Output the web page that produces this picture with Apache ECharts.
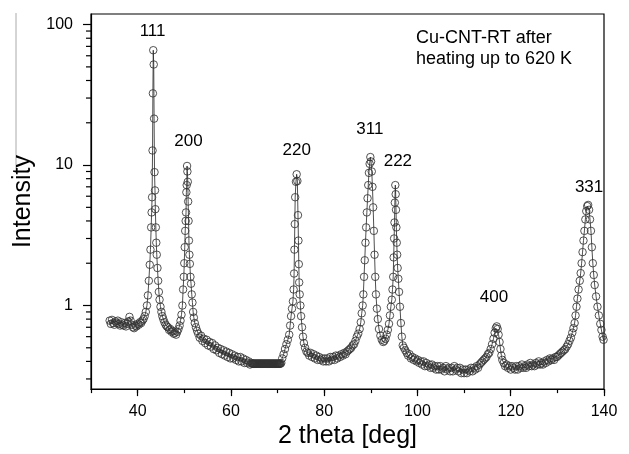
<!DOCTYPE html>
<html>
<head>
<meta charset="utf-8">
<script src="https://cdn.jsdelivr.net/npm/echarts@6/dist/echarts.min.js"></script>
<style>
html, body { margin: 0; padding: 0; background: #fff; }
#chart { width: 629px; height: 454px; }
</style>
</head>
<body>
<div id="chart"></div>
<script>
var X_MIN = 30, X_MAX = 140;
var Y_MIN = 0.254, Y_MAX = 119;

// measured pattern, split by region [2theta, intensity]
var bgLeft = [[34.0,0.78],[34.25,0.74],[34.5,0.79],[34.75,0.75],[35.0,0.73],[35.25,0.77],[35.5,0.75],[35.75,0.78],[36.0,0.74],[36.25,0.72],[36.5,0.76],[36.75,0.73],[37.0,0.72],[37.25,0.75],[37.5,0.71],[37.75,0.74],[38.0,0.77],[38.25,0.83],[38.5,0.78],[38.75,0.73],[39.0,0.70],[39.25,0.69],[39.5,0.72],[39.75,0.71],[40.0,0.74],[40.25,0.73],[40.5,0.76],[40.75,0.75],[41.0,0.78],[41.25,0.80],[41.5,0.84]];
var peak111 = [[41.75,0.90],[42.0,1.0],[42.2,1.18],[42.4,1.5],[42.6,1.95],[42.75,2.5],[42.9,3.6],[43.0,4.6],[43.1,5.9],[43.2,12.7],[43.27,32.4],[43.35,65.7],[43.45,52],[43.53,21.4],[43.62,8.9],[43.72,6.6],[43.8,4.85],[43.9,3.6],[44.0,2.8],[44.1,2.3],[44.25,1.85],[44.4,1.5],[44.55,1.25],[44.7,1.1],[44.9,0.98],[45.1,0.9],[45.3,0.84],[45.5,0.8],[45.75,0.76],[46.0,0.73],[46.25,0.71],[46.5,0.70],[46.75,0.67],[47.0,0.68],[47.25,0.65],[47.5,0.66],[47.75,0.63],[48.0,0.64],[48.25,0.62],[48.5,0.65],[48.75,0.68]];
var peak200 = [[49.0,0.72],[49.2,0.78],[49.4,0.86],[49.6,1.0],[49.75,1.3],[49.9,1.6],[50.0,2.0],[50.1,2.6],[50.2,3.4],[50.3,4.0],[50.38,4.6],[50.45,6.4],[50.52,7.2],[50.6,9.85],[50.67,9.0],[50.75,7.6],[50.83,5.5],[50.92,4.0],[51.0,2.9],[51.1,2.3],[51.2,1.98],[51.32,1.6],[51.45,1.43],[51.6,1.2],[51.75,1.05],[51.9,0.9],[52.05,0.82],[52.25,0.75],[52.5,0.70],[52.75,0.66]];
var bgMid = [[53.0,0.63],[53.3,0.59],[53.6,0.61],[53.9,0.56],[54.2,0.58],[54.5,0.54],[54.8,0.57],[55.1,0.52],[55.4,0.55],[55.7,0.51],[56.0,0.54],[56.3,0.49],[56.6,0.52],[56.9,0.48],[57.2,0.50],[57.5,0.46],[57.8,0.49],[58.1,0.45],[58.4,0.48],[58.7,0.44],[59.0,0.47],[59.3,0.43],[59.6,0.46],[59.9,0.42],[60.2,0.45],[60.5,0.42],[60.8,0.44],[61.1,0.41],[61.4,0.43],[61.7,0.40],[62.0,0.43],[62.3,0.40],[62.6,0.42],[62.9,0.39],[63.2,0.41],[63.5,0.39],[63.8,0.40],[64.1,0.38],[64.4,0.39]];
var flatPart = [[64.6,0.385],[64.7,0.385],[64.8,0.385],[64.9,0.385],[65.0,0.385],[65.1,0.385],[65.2,0.385],[65.3,0.385],[65.4,0.385],[65.5,0.385],[65.6,0.385],[65.7,0.385],[65.8,0.385],[65.9,0.385],[66.0,0.385],[66.1,0.385],[66.2,0.385],[66.3,0.385],[66.4,0.385],[66.5,0.385],[66.6,0.385],[66.7,0.385],[66.8,0.385],[66.9,0.385],[67.0,0.385],[67.1,0.385],[67.2,0.385],[67.3,0.385],[67.4,0.385],[67.5,0.385],[67.6,0.385],[67.7,0.385],[67.8,0.385],[67.9,0.385],[68.0,0.385],[68.1,0.385],[68.2,0.385],[68.3,0.385],[68.4,0.385],[68.5,0.385],[68.6,0.385],[68.7,0.385],[68.8,0.385],[68.9,0.385],[69.0,0.385],[69.1,0.385],[69.2,0.385],[69.3,0.385],[69.4,0.385],[69.5,0.385],[69.6,0.385],[69.7,0.385],[69.8,0.385],[69.9,0.385],[70.0,0.385],[70.1,0.385],[70.2,0.385],[70.3,0.385],[70.4,0.385],[70.5,0.385],[70.6,0.385]];
var peak220 = [[70.8,0.39],[71.0,0.42],[71.3,0.45],[71.6,0.49],[71.9,0.53],[72.2,0.57],[72.5,0.62],[72.7,0.72],[72.9,0.84],[73.1,0.95],[73.3,1.07],[73.45,1.3],[73.55,1.69],[73.62,2.5],[73.7,3.8],[73.78,5.9],[73.95,7.6],[74.1,8.6],[74.25,7.7],[74.38,4.4],[74.48,2.9],[74.56,1.97],[74.64,1.46],[74.75,1.2],[74.9,1.0],[75.05,0.84],[75.25,0.7],[75.45,0.6],[75.65,0.54],[75.9,0.5],[76.2,0.47],[76.5,0.46]];
var bgRight = [[76.8,0.44],[77.1,0.46],[77.4,0.43],[77.7,0.45],[78.0,0.42],[78.3,0.44],[78.6,0.41],[78.9,0.43],[79.2,0.41],[79.5,0.42],[79.8,0.40],[80.1,0.42],[80.4,0.40],[80.7,0.42],[81.0,0.40],[81.3,0.43],[81.6,0.41],[81.9,0.43],[82.2,0.41],[82.5,0.44],[82.8,0.42],[83.1,0.44],[83.4,0.43],[83.7,0.45],[84.0,0.44],[84.3,0.46],[84.6,0.45],[84.9,0.47],[85.2,0.48],[85.5,0.49],[85.8,0.5],[86.1,0.52],[86.4,0.53]];
var peak311and222 = [[86.7,0.56],[87.0,0.6],[87.3,0.63],[87.6,0.68],[87.85,0.76],[88.05,0.88],[88.25,1.0],[88.4,1.2],[88.55,1.6],[88.7,2.1],[88.85,2.8],[89.0,3.6],[89.15,4.6],[89.3,5.8],[89.45,7.2],[89.6,8.8],[89.75,10.2],[89.9,11.4],[90.05,10.6],[90.2,9.0],[90.35,7.0],[90.5,5.0],[90.65,3.4],[90.8,2.3],[90.95,1.6],[91.1,1.2],[91.3,0.95],[91.5,0.8],[91.75,0.68],[92.05,0.61],[92.35,0.57],[92.65,0.55],[92.9,0.56],[93.15,0.58],[93.4,0.62],[93.65,0.67],[93.9,0.74],[94.1,0.85],[94.3,0.98],[94.5,1.1],[94.65,1.3],[94.8,1.6],[94.9,2.2],[95.0,3.0],[95.08,3.9],[95.15,5.4],[95.25,7.2],[95.33,6.2],[95.4,4.8],[95.48,3.6],[95.56,2.8],[95.65,2.3],[95.75,1.85],[95.9,1.55],[96.05,1.25],[96.25,0.98],[96.45,0.75],[96.65,0.6],[96.85,0.52],[97.1,0.5],[97.4,0.48]];
var bgLow = [[97.7,0.46],[98.0,0.44],[98.3,0.45],[98.6,0.42],[98.9,0.43],[99.2,0.41],[99.5,0.42],[99.8,0.40],[100.1,0.41],[100.4,0.39],[100.7,0.40],[101.0,0.38],[101.3,0.40],[101.6,0.37],[101.9,0.39],[102.2,0.37],[102.5,0.38],[102.8,0.36],[103.1,0.38],[103.4,0.36],[103.7,0.37],[104.0,0.35],[104.3,0.37],[104.6,0.35],[104.9,0.37],[105.2,0.35],[105.5,0.36],[105.8,0.34],[106.1,0.37],[106.4,0.35],[106.7,0.36],[107.0,0.34],[107.3,0.36],[107.6,0.34],[107.9,0.37],[108.2,0.35],[108.5,0.36],[108.8,0.34],[109.1,0.36],[109.4,0.33],[109.7,0.35],[110.0,0.33],[110.3,0.35],[110.6,0.33],[110.9,0.35],[111.2,0.34],[111.5,0.36],[111.8,0.34],[112.1,0.36],[112.4,0.35],[112.7,0.37],[113.0,0.36],[113.3,0.38],[113.6,0.39],[113.9,0.40],[114.2,0.41],[114.5,0.42],[114.8,0.43],[115.1,0.45]];
var peak400 = [[115.4,0.46],[115.7,0.49],[116.0,0.53],[116.3,0.58],[116.55,0.64],[116.8,0.69],[117.0,0.71],[117.2,0.68],[117.4,0.62],[117.6,0.55],[117.8,0.49],[118.0,0.44],[118.2,0.41],[118.5,0.39],[118.8,0.37]];
var bgEnd = [[119.1,0.38],[119.4,0.36],[119.7,0.37],[120.0,0.35],[120.3,0.37],[120.6,0.36],[120.9,0.35],[121.2,0.37],[121.5,0.35],[121.8,0.37],[122.1,0.36],[122.4,0.38],[122.7,0.36],[123.0,0.37],[123.3,0.36],[123.6,0.38],[123.9,0.37],[124.2,0.39],[124.5,0.37],[124.8,0.38],[125.1,0.37],[125.4,0.39],[125.7,0.38],[126.0,0.40],[126.3,0.38],[126.6,0.39],[126.9,0.38],[127.2,0.40],[127.5,0.39],[127.8,0.41],[128.1,0.40],[128.4,0.42],[128.7,0.41],[129.0,0.42],[129.3,0.41],[129.6,0.43],[129.9,0.43],[130.2,0.44],[130.5,0.45],[130.8,0.46],[131.1,0.47],[131.4,0.48],[131.7,0.49],[132.0,0.51],[132.3,0.53],[132.6,0.56]];
var peak331 = [[132.9,0.59],[133.2,0.64],[133.45,0.69],[133.7,0.75],[133.9,0.85],[134.1,0.98],[134.3,1.12],[134.55,1.3],[134.8,1.5],[135.0,1.7],[135.2,2.0],[135.4,2.4],[135.6,2.9],[135.8,3.4],[136.0,4.1],[136.2,4.7],[136.4,5.1],[136.6,5.2],[136.8,4.8],[137.0,4.1],[137.2,3.4],[137.4,2.6],[137.6,2.0],[137.8,1.65],[138.0,1.4],[138.3,1.16],[138.6,0.98],[138.9,0.85],[139.2,0.74],[139.45,0.67],[139.7,0.6],[139.9,0.57]];

var pattern = [].concat(bgLeft, peak111, peak200, bgMid, flatPart, peak220, bgRight,
	peak311and222, bgLow, peak400, bgEnd, peak331);

// reflection labels and where they sit (data coords)
var peakNames = ['111', '200', '220', '311', '222', '400', '331'];
var peakLabelPos = [[43.2, 90], [50.9, 14.7], [74.1, 12.7], [89.8, 17.9], [95.8, 10.7], [116.4, 1.14], [136.8, 7.0]];

var yMinorTicks = [0.3, 0.4, 0.5, 0.6, 0.7, 0.8, 0.9, 2, 3, 4, 5, 6, 7, 8, 9, 20, 30, 40, 50, 60, 70, 80, 90];

var font = 'Liberation Sans, Arial, sans-serif';
var chart = echarts.init(document.getElementById('chart'));

var option = {
	animation : false,
	textStyle : { fontFamily : font },
	grid : {
		left : 91, right : 25, top : 14, bottom : 60,
		show : true, borderColor : '#000', borderWidth : 1.2
	},
	graphic : [ {
		type : 'line',
		shape : { x1 : 16, y1 : 13, x2 : 16, y2 : 172 },
		style : { stroke : '#aaa', lineWidth : 1 }
	}, {
		type : 'text',
		left : 416, top : 28,
		style : {
			text : 'Cu-CNT-RT after\nheating up to 620 K',
			font : '18px ' + font,
			lineHeight : 21,
			fill : '#000'
		}
	} ],
	xAxis : [ {
		type : 'value',
		min : X_MIN, max : X_MAX,
		minInterval : 20, maxInterval : 20,
		name : '2 theta [deg]',
		nameLocation : 'middle',
		nameGap : 34,
		nameTextStyle : { fontSize : 25, color : '#000' },
		axisLine : { lineStyle : { color : '#000', width : 1.2 } },
		axisTick : { length : 7, lineStyle : { color : '#000', width : 1.2 } },
		axisLabel : { fontSize : 16, color : '#000', margin : 14, showMinLabel : false },
		splitLine : { show : false }
	}, {
		// minor ticks every 10
		type : 'value',
		position : 'bottom',
		min : X_MIN, max : X_MAX, interval : 10,
		axisLine : { show : false },
		axisTick : { length : 4, lineStyle : { color : '#000', width : 1.2 } },
		axisLabel : { show : false },
		splitLine : { show : false }
	} ],
	yAxis : {
		type : 'log',
		logBase : 10,
		min : Y_MIN, max : Y_MAX,
		name : 'Intensity',
		nameLocation : 'middle',
		nameGap : 55,
		nameTextStyle : { fontSize : 25, color : '#000' },
		axisLine : { lineStyle : { color : '#000', width : 1.2 } },
		axisTick : { length : 8, lineStyle : { color : '#000', width : 1.2 } },
		axisLabel : { fontSize : 16, color : '#000', margin : 18, showMinLabel : false, showMaxLabel : false },
		splitLine : { show : false },
		minorTick : { show : false }
	},
	series : [ {
		type : 'line',
		data : pattern,
		symbol : 'circle',
		symbolSize : 7.5,
		showAllSymbol : true,
		itemStyle : { color : 'rgba(0,0,0,0)', borderColor : '#333', borderWidth : 0.85 },
		lineStyle : { color : '#222', width : 0.8 },
		emphasis : { disabled : true },
		z : 2
	}, {
		// hkl labels
		type : 'custom',
		data : peakLabelPos,
		clip : false,
		silent : true,
		z : 3,
		renderItem : function(params, api) {
			var p = api.coord([api.value(0), api.value(1)]);
			return {
				type : 'text',
				x : p[0], y : p[1],
				style : {
					text : peakNames[params.dataIndex],
					font : '17px ' + font,
					fill : '#000',
					align : 'center',
					verticalAlign : 'middle'
				}
			};
		}
	}, {
		// log minor ticks on the intensity axis
		type : 'custom',
		data : yMinorTicks.map(function(v) { return [X_MIN, v]; }),
		clip : false,
		silent : true,
		renderItem : function(params, api) {
			var p = api.coord([api.value(0), api.value(1)]);
			return {
				type : 'line',
				shape : { x1 : p[0] - 5, y1 : p[1], x2 : p[0], y2 : p[1] },
				style : { stroke : '#000', lineWidth : 1.2 }
			};
		}
	} ]
};
chart.setOption(option);
</script>
</body>
</html>
